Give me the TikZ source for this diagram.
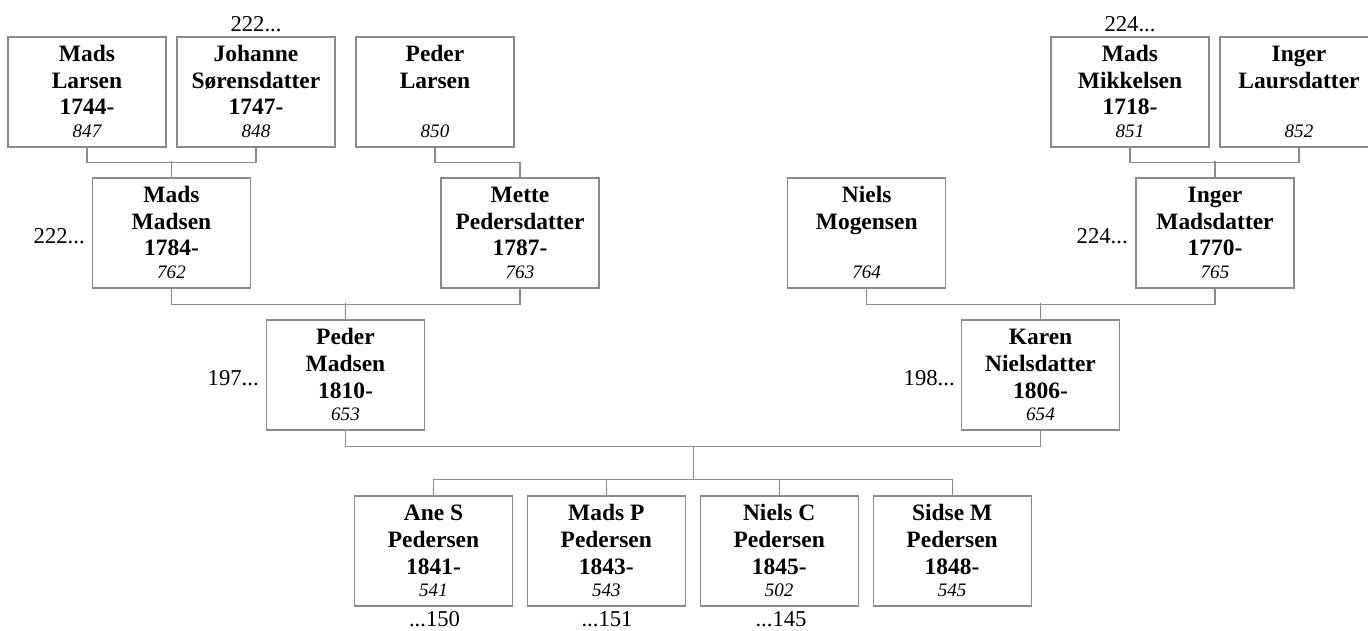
\documentclass[tikz,border=0pt]{standalone}
\usepackage{fontspec}
\setmainfont{Liberation Serif}
\definecolor{linegray}{RGB}{138,138,138}
\tikzset{
  pbox/.style={draw=linegray, line width=0.9pt, fill=white, minimum width=118.5pt, minimum height=82.5pt, inner sep=0pt},
  conn/.style={draw=linegray, line width=0.9pt},
  bname/.style={anchor=base, inner sep=0pt, font=\bfseries\fontsize{17.6}{20}\selectfont},
  inum/.style={anchor=base, inner sep=0pt, font=\itshape\fontsize{14.3}{16}\selectfont},
  reflab/.style={inner sep=0pt, font=\fontsize{17}{20}\selectfont}
}
\newcommand{\pers}[7]{%
  \node[pbox] (#1) at (#2,#3+55) {};
  \node[bname] (#1-a) at (#2,#3+24.7) {#4};
  \node[bname] (#1-b) at (#2,#3+51.3) {#5};
  \node[bname] (#1-c) at (#2,#3+78) {#6};
  \node[inum] (#1-d) at (#2,#3+100.3) {#7};
}
\begin{document}
\begin{tikzpicture}[x=0.75pt,y=-0.75pt]
\useasboundingbox (0,0) rectangle (1368,631);
% row 1
\pers{mL}{87}{37}{Mads}{Larsen}{1744-}{847}
\pers{jS}{256}{37}{Johanne}{Sørensdatter}{1747-}{848}
\pers{pL}{435}{37}{Peder}{Larsen}{}{850}
\pers{mMi}{1130}{37}{Mads}{Mikkelsen}{1718-}{851}
\pers{iL}{1299}{37}{Inger}{Laursdatter}{}{852}
% row 2
\pers{mMa}{171.5}{178}{Mads}{Madsen}{1784-}{762}
\pers{mP}{520}{178}{Mette}{Pedersdatter}{1787-}{763}
\pers{nMo}{866.7}{178}{Niels}{Mogensen}{}{764}
\pers{iM}{1215}{178}{Inger}{Madsdatter}{1770-}{765}
% row 3
\pers{pM}{345.5}{320}{Peder}{Madsen}{1810-}{653}
\pers{kN}{1040.5}{320}{Karen}{Nielsdatter}{1806-}{654}
% row 4
\pers{c1}{433.5}{496}{Ane S}{Pedersen}{1841-}{541}
\pers{c2}{606.3}{496}{Mads P}{Pedersen}{1843-}{543}
\pers{c3}{779.2}{496}{Niels C}{Pedersen}{1845-}{502}
\pers{c4}{952.1}{496}{Sidse M}{Pedersen}{1848-}{545}
% connectors
\draw[conn] (mL.south) -- ++(0,15) -| (jS.south);
\draw[conn] (mMa.north) -- ++(0,-16);
\draw[conn] (pL.south) -- ++(0,15) -| (mP.north);
\draw[conn] (mMa.south) -- ++(0,16) -| (mP.south);
\draw[conn] (pM.north) -- ++(0,-16);
\draw[conn] (mMi.south) -- ++(0,15) -| (iL.south);
\draw[conn] (iM.north) -- ++(0,-16);
\draw[conn] (nMo.south) -- ++(0,16) -| (iM.south);
\draw[conn] (kN.north) -- ++(0,-16);
\draw[conn] (pM.south) -- ++(0,15.5) -| (kN.south);
\coordinate (famtop) at (693.5,445.5);
\coordinate (famsib) at (693.5,480);
\draw[conn] (famtop) -- (famsib);
\draw[conn] (c1.north) -- ++(0,-16) -| (c4.north);
\draw[conn] (c2.north) -- ++(0,-16);
\draw[conn] (c3.north) -- ++(0,-16);
% reference labels
\node[reflab, anchor=base] (r1) at (256,32) {222...};
\node[reflab, anchor=base] (r2) at (1130,32) {224...};
\node[reflab, anchor=base east] (r3) at (85,243.3) {222...};
\node[reflab, anchor=base east] (r4) at (1128,243.3) {224...};
\node[reflab, anchor=base east] (r5) at (259,385) {197...};
\node[reflab, anchor=base east] (r6) at (955,385) {198...};
\node[reflab, anchor=base] (r7) at (434.5,626.7) {...150};
\node[reflab, anchor=base] (r8) at (607,626.7) {...151};
\node[reflab, anchor=base] (r9) at (781,626.7) {...145};
\end{tikzpicture}
\end{document}
